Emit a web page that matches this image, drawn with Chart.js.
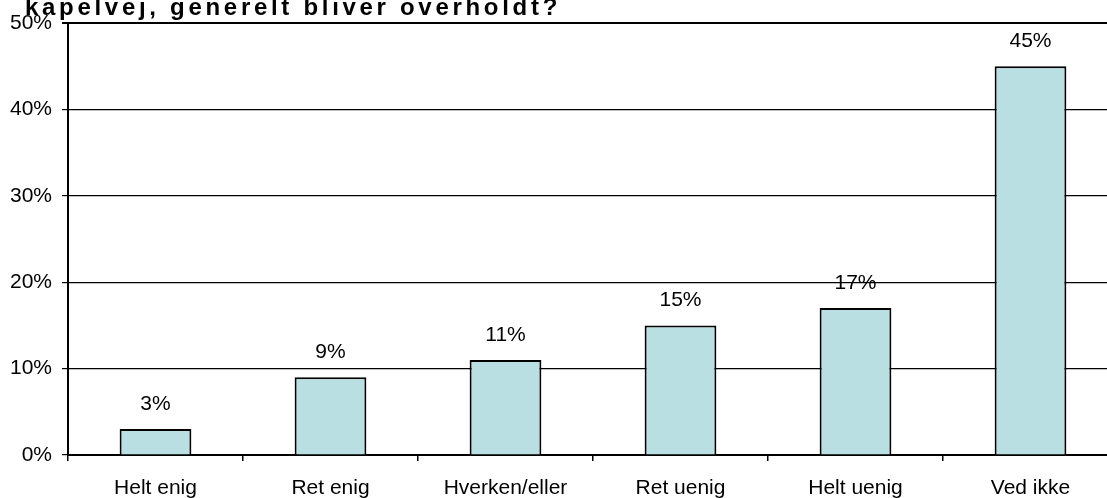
<!DOCTYPE html>
<html>
<head>
<meta charset="utf-8">
<script src="https://cdn.jsdelivr.net/npm/chart.js@4.4.1/dist/chart.umd.min.js"></script>
<style>
  html, body { margin: 0; padding: 0; background: #fff; }
  #frame { position: relative; width: 1107px; height: 498px; overflow: hidden; }
  #title {
    position: absolute; left: 25px; top: -5px; z-index: 2;
    font: bold 24px "Liberation Sans", Arial, sans-serif;
    letter-spacing: 3.7px; line-height: 24px; white-space: nowrap; color: #000;
  }
  #wrap { position: absolute; left: 0; top: 0; width: 1130px; height: 498px; }
</style>
</head>
<body>
<div id="frame">
  <div id="title">kapelvej, generelt bliver overholdt?</div>
  <div id="wrap"><canvas id="c" width="1130" height="498"></canvas></div>
</div>
<script>
const categories = ["Helt enig", "Ret enig", "Hverken/eller", "Ret uenig", "Helt uenig", "Ved ikke"]
const shares = [3, 9, 11, 15, 17, 45]
const yTicks = [0, 10, 20, 30, 40, 50]

const FONT = '"Liberation Sans", Arial, sans-serif'

// value labels above each bar
const valueLabels = {
  id: "valueLabels",
  afterDatasetsDraw(chart) {
    const { ctx } = chart
    const meta = chart.getDatasetMeta(0)
    ctx.save()
    ctx.fillStyle = "#000"
    ctx.font = "21px " + FONT
    ctx.textAlign = "center"
    ctx.textBaseline = "alphabetic"
    meta.data.forEach((bar, i) => {
      ctx.fillText(shares[i] + "%", bar.x, bar.y - 19)
    })
    ctx.restore()
  },
}

new Chart(document.getElementById("c"), {
  type: "bar",
  plugins: [valueLabels],
  data: {
    labels: categories,
    datasets: [
      {
        data: shares,
        backgroundColor: "#badfe2",
        borderColor: "#000",
        borderWidth: 2,
        borderSkipped: "bottom",
        barPercentage: 0.41,
        categoryPercentage: 1,
      },
    ],
  },
  options: {
    responsive: false,
    animation: false,
    layout: { padding: { left: 0, right: 12, top: 23, bottom: 0 } },
    plugins: {
      legend: { display: false },
      tooltip: { enabled: false },
    },
    scales: {
      x: {
        offset: true,
        afterFit: (s) => { s.height = 43 },
        grid: {
          offset: true,
          drawOnChartArea: false,
          drawTicks: true,
          tickLength: 6,
          color: "#000",
          lineWidth: 1.5,
        },
        border: { color: "#000", width: 2 },
        ticks: {
          color: "#000",
          font: { family: FONT, size: 21 },
          padding: 15,
          maxRotation: 0,
        },
      },
      y: {
        min: 0,
        max: 50,
        afterFit: (s) => { s.width = 68 },
        afterBuildTicks: (s) => { s.ticks = yTicks.map((v) => ({ value: v })) },
        grid: {
          color: "#000",
          lineWidth: (c) => (c.tick && c.tick.value === 50 ? 2 : 1.2),
          tickLength: 6,
        },
        border: { color: "#000", width: 2 },
        ticks: {
          color: "#000",
          font: { family: FONT, size: 21 },
          padding: 10,
          callback: (v) => v + "%",
        },
      },
    },
  },
})
</script>
</body>
</html>
